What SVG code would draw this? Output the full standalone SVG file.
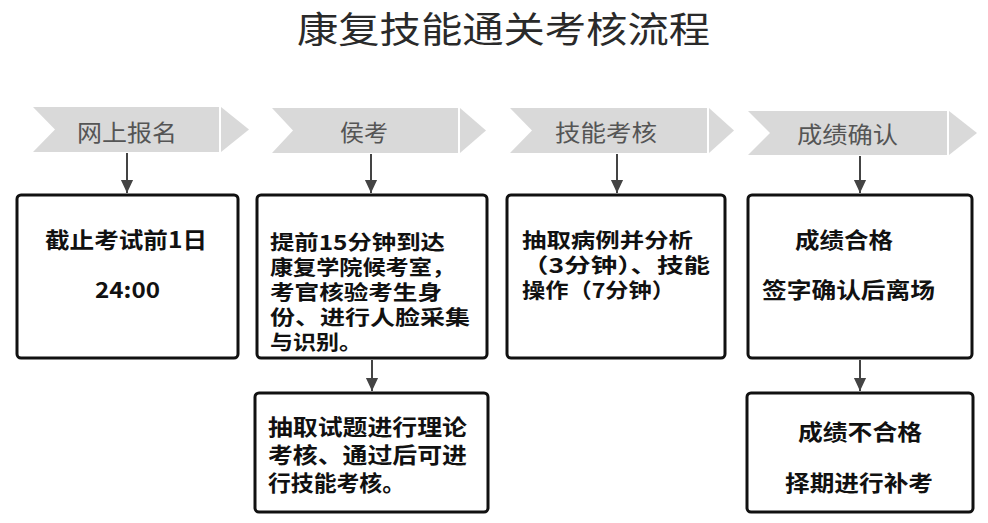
<svg xmlns="http://www.w3.org/2000/svg" width="988" height="523" viewBox="0 0 988 523">
<style>
.title{font-family:"Noto Sans CJK SC","Liberation Sans",sans-serif;font-size:36px;fill:#2a2a2a}
.chev{fill:#d9d9d9}
.clab{font-family:"Noto Sans CJK SC","Liberation Sans",sans-serif;font-size:23px;fill:#555}
.box{fill:#fff;stroke:#111;stroke-width:3}
.bt{font-family:"Noto Sans CJK SC","Liberation Sans",sans-serif;font-size:22px;font-weight:bold;fill:#111}
.bs{font-size:20.5px}
.conn{stroke:#444;stroke-width:2;fill:none}
</style>
<defs>
<marker id="a2" markerUnits="userSpaceOnUse" markerWidth="14" markerHeight="16" refX="15" refY="7" orient="auto" viewBox="0 0 16 14">
<path d="M0,0 L15,7 L0,14 Z" fill="#444"/>
</marker>
</defs>
<rect width="988" height="523" fill="#fff"/>
<text class="title" x="297" y="43" textLength="413" lengthAdjust="spacingAndGlyphs">康复技能通关考核流程</text>

<g id="step1">
<polygon class="chev" points="33,107 219,107 219,152 33,152 55,129.5"/>
<polygon class="chev" points="221,107 249,129.5 221,152"/>
<text class="clab" x="77" y="141" textLength="100" lengthAdjust="spacingAndGlyphs">网上报名</text>
</g>
<g id="step2">
<polygon class="chev" points="272,108 458,108 458,153 272,153 293,130.5"/>
<polygon class="chev" points="460,108 486,130.5 460,153"/>
<text class="clab" x="340" y="141" textLength="48" lengthAdjust="spacingAndGlyphs">侯考</text>
</g>
<g id="step3">
<polygon class="chev" points="510,108 707,108 707,153 510,153 532,130.5"/>
<polygon class="chev" points="709,108 734,130.5 709,153"/>
<text class="clab" x="555" y="141" textLength="102" lengthAdjust="spacingAndGlyphs">技能考核</text>
</g>
<g id="step4">
<polygon class="chev" points="748,111 947,111 947,155 748,155 770,133"/>
<polygon class="chev" points="949,111 977,133 949,155"/>
<text class="clab" x="797" y="143" textLength="101" lengthAdjust="spacingAndGlyphs">成绩确认</text>
</g>

<g id="box1">
<rect class="box" x="17" y="195" width="221" height="163" rx="4"/>
<text class="bt" x="45" y="248" textLength="162" lengthAdjust="spacingAndGlyphs">截止考试前1日</text>
<text class="bt" x="95" y="298" textLength="65" lengthAdjust="spacingAndGlyphs">24:00</text>
</g>
<g id="box2">
<rect class="box" x="257" y="195" width="230" height="163" rx="4"/>
<text class="bt bs" x="270" y="250" textLength="175" lengthAdjust="spacingAndGlyphs">提前15分钟到达</text>
<text class="bt bs" x="270" y="275" textLength="185" lengthAdjust="spacingAndGlyphs">康复学院候考室，</text>
<text class="bt bs" x="270" y="300" textLength="172" lengthAdjust="spacingAndGlyphs">考官核验考生身</text>
<text class="bt bs" x="270" y="325" textLength="200" lengthAdjust="spacingAndGlyphs">份、进行人脸采集</text>
<text class="bt bs" x="270" y="350" textLength="92" lengthAdjust="spacingAndGlyphs">与识别。</text>
</g>
<g id="box3">
<rect class="box" x="507" y="195" width="218" height="163" rx="4"/>
<text class="bt bs" x="522" y="248" textLength="171" lengthAdjust="spacingAndGlyphs">抽取病例并分析</text>
<text class="bt bs" x="522" y="273" textLength="188" lengthAdjust="spacingAndGlyphs">（3分钟）、技能</text>
<text class="bt bs" x="522" y="298" textLength="153" lengthAdjust="spacingAndGlyphs">操作（7分钟）</text>
</g>
<g id="box4">
<rect class="box" x="748" y="195" width="224" height="163" rx="4"/>
<text class="bt" x="795" y="248" textLength="98" lengthAdjust="spacingAndGlyphs">成绩合格</text>
<text class="bt" x="762" y="298" textLength="173" lengthAdjust="spacingAndGlyphs">签字确认后离场</text>
</g>
<g id="box5">
<rect class="box" x="255" y="393" width="233" height="119" rx="4"/>
<text class="bt" x="268" y="435" textLength="199" lengthAdjust="spacingAndGlyphs">抽取试题进行理论</text>
<text class="bt" x="268" y="463" textLength="199" lengthAdjust="spacingAndGlyphs">考核、通过后可进</text>
<text class="bt" x="268" y="491" textLength="137" lengthAdjust="spacingAndGlyphs">行技能考核。</text>
</g>
<g id="box6">
<rect class="box" x="747" y="393" width="226" height="119" rx="4"/>
<text class="bt" x="798" y="440" textLength="124" lengthAdjust="spacingAndGlyphs">成绩不合格</text>
<text class="bt" x="785" y="491" textLength="148" lengthAdjust="spacingAndGlyphs">择期进行补考</text>
</g>

<g id="connectors">
<line class="conn" x1="127" y1="153" x2="127" y2="193" marker-end="url(#a2)"/>
<line class="conn" x1="371" y1="154" x2="371" y2="193" marker-end="url(#a2)"/>
<line class="conn" x1="617" y1="154" x2="617" y2="193" marker-end="url(#a2)"/>
<line class="conn" x1="860" y1="156" x2="860" y2="193" marker-end="url(#a2)"/>
<line class="conn" x1="372" y1="360" x2="372" y2="391" marker-end="url(#a2)"/>
<line class="conn" x1="860" y1="360" x2="860" y2="391" marker-end="url(#a2)"/>
</g>
</svg>
